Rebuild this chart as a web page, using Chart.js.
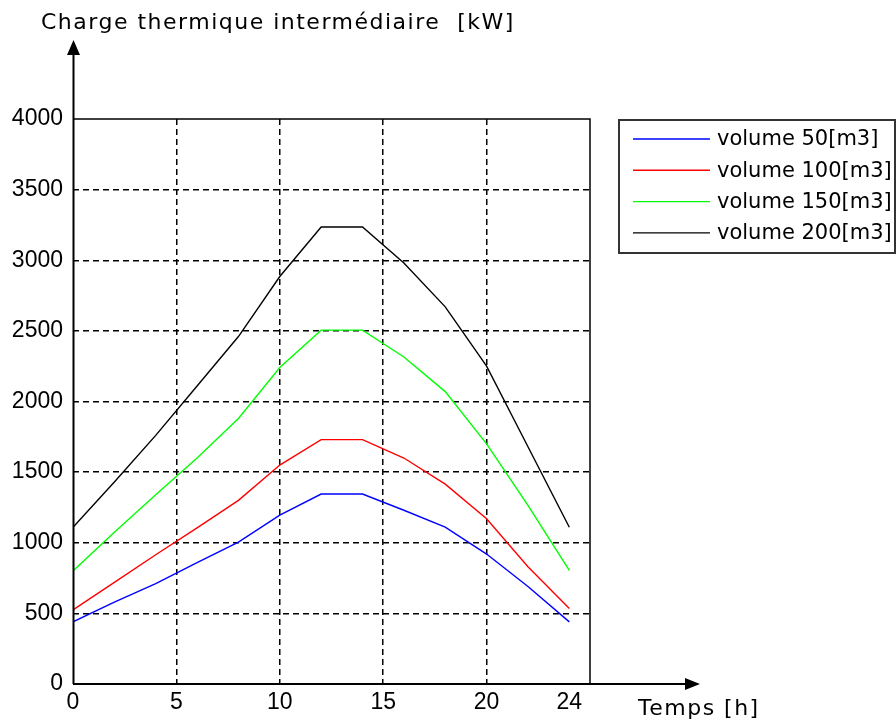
<!DOCTYPE html>
<html><head><meta charset="utf-8">
<script src="https://cdn.jsdelivr.net/npm/chart.js@4/dist/chart.umd.min.js"></script>
<style>html,body{margin:0;padding:0;background:#fff}#wrap{width:896px;height:724px}</style>
</head><body><div id="wrap"><canvas id="c" width="896" height="724"></canvas></div>
<script>
// ---- data ----
const hours = [0, 2, 4, 6, 8, 10, 12, 14, 16, 18, 20, 22, 24];
const seriesLabels = ['volume 50[m3]', 'volume 100[m3]', 'volume 150[m3]', 'volume 200[m3]'];
const vol50  = [440, 580, 710, 860, 1005, 1195, 1345, 1345, 1230, 1110, 920, 690, 440];
const vol100 = [525, 720, 915, 1105, 1300, 1550, 1730, 1730, 1600, 1415, 1170, 830, 535];
const vol150 = [800, 1075, 1340, 1600, 1880, 2240, 2505, 2505, 2315, 2070, 1700, 1265, 805];
const vol200 = [1110, 1430, 1760, 2110, 2460, 2885, 3235, 3235, 2980, 2670, 2250, 1680, 1110];
const xTickLabels = [0, 5, 10, 15, 20, 24];
const xGridValues = [5, 10, 15, 20];
const yTickValues = [0, 500, 1000, 1500, 2000, 2500, 3000, 3500, 4000];
const yTitle = 'Charge thermique intermédiaire  [kW]';
const xTitle = 'Temps [h]';
const seriesColors = ['#0000ff', '#ff0000', '#00ff00', '#000000'];

const seriesValues = [vol50, vol100, vol150, vol200];
const datasets = seriesValues.map((vals, i) => ({
  label: seriesLabels[i],
  data: vals.map((v, j) => ({x: hours[j], y: v})),
  borderColor: seriesColors[i],
  backgroundColor: seriesColors[i],
  borderWidth: 1.4,
  pointRadius: 0,
  tension: 0,
  fill: false
}));

const TICK_FONT = {family: 'Liberation Sans', size: 23};

const framePlugin = {
  id: 'frame',
  afterDraw(chart) {
    const {ctx, chartArea: a} = chart;
    const ax = a.left + 0.5;
    ctx.save();
    ctx.strokeStyle = '#000';
    ctx.fillStyle = '#000';
    ctx.lineWidth = 1.5;
    ctx.setLineDash([]);
    // top and right border
    ctx.beginPath();
    ctx.moveTo(a.left, a.top); ctx.lineTo(a.right, a.top); ctx.lineTo(a.right, a.bottom);
    ctx.stroke();
    // y axis extended with arrow
    ctx.lineWidth = 2;
    ctx.beginPath();
    ctx.moveTo(ax, a.bottom); ctx.lineTo(ax, 52);
    ctx.stroke();
    ctx.beginPath();
    ctx.moveTo(ax, 40); ctx.lineTo(ax - 6.5, 55); ctx.lineTo(ax + 6.5, 55); ctx.closePath();
    ctx.fill();
    // x axis extended with arrow
    ctx.beginPath();
    ctx.moveTo(a.left, a.bottom); ctx.lineTo(688, a.bottom);
    ctx.stroke();
    ctx.beginPath();
    ctx.moveTo(700, a.bottom); ctx.lineTo(685, a.bottom - 6); ctx.lineTo(685, a.bottom + 6); ctx.closePath();
    ctx.fill();
    // axis titles
    ctx.font = '22px "DejaVu Sans"';
    ctx.letterSpacing = '1.5px';
    ctx.textAlign = 'left';
    ctx.textBaseline = 'alphabetic';
    ctx.fillText(yTitle, 41, 28.5);
    ctx.fillText(xTitle, 638, 715);
    ctx.letterSpacing = '0px';
    // legend
    const lx = 619, ly = 120, lw = 276, lh = 133;
    ctx.lineWidth = 2;
    ctx.strokeStyle = '#333';
    ctx.strokeRect(lx, ly, lw, lh);
    ctx.font = '21px "DejaVu Sans"';
    ctx.textBaseline = 'middle';
    chart.data.datasets.forEach((ds, i) => {
      const yy = 139 + i * 31.3;
      ctx.strokeStyle = ds.borderColor;
      ctx.lineWidth = 1.4;
      ctx.beginPath(); ctx.moveTo(633, yy); ctx.lineTo(710, yy); ctx.stroke();
      ctx.fillStyle = '#000';
      ctx.fillText(ds.label, 717, yy + 1);
    });
    ctx.restore();
  }
};

new Chart(document.getElementById('c'), {
  type: 'line',
  data: {datasets},
  options: {
    responsive: false,
    devicePixelRatio: 1,
    animation: false,
    layout: {padding: {left: 0, top: 119, right: 306, bottom: 0}},
    plugins: {legend: {display: false}, tooltip: {enabled: false}, title: {display: false}},
    scales: {
      x: {
        type: 'linear', min: 0, max: 25,
        afterBuildTicks: s => { s.ticks = [0, 5, 10, 15, 20, 24, 25].map(v => ({value: v})); },
        afterFit: s => { s.height = 40; },
        ticks: {
          autoSkip: false, maxRotation: 0, color: '#000', font: TICK_FONT, padding: 5,
          callback: v => xTickLabels.includes(v) ? String(v) : ''
        },
        grid: {
          drawTicks: false, lineWidth: 1.5,
          color: c => xGridValues.includes(c.tick && c.tick.value) ? '#000' : 'rgba(0,0,0,0)'
        },
        border: {display: false, dash: [6, 4]}
      },
      y: {
        type: 'linear', min: 0, max: 4000,
        afterBuildTicks: s => { s.ticks = yTickValues.map(v => ({value: v})); },
        afterFit: s => { s.width = 73; },
        ticks: {color: '#000', font: TICK_FONT, padding: 10, callback: v => String(v)},
        grid: {
          drawTicks: false, lineWidth: 1.5,
          color: c => (c.tick && c.tick.value > 0 && c.tick.value < 4000) ? '#000' : 'rgba(0,0,0,0)'
        },
        border: {display: false, dash: [6, 4]}
      }
    }
  },
  plugins: [framePlugin]
});
</script></body></html>
